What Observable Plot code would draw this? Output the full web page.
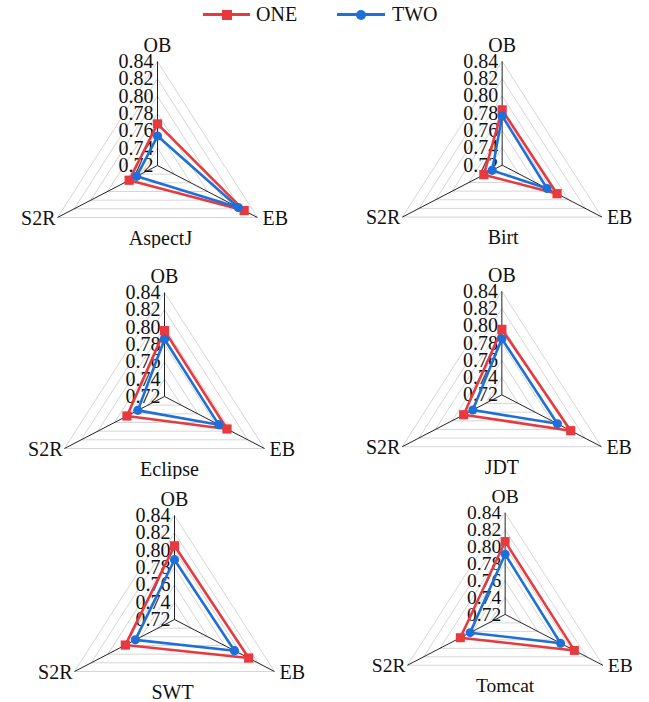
<!DOCTYPE html>
<html>
<head>
<meta charset="utf-8">
<script src="https://cdn.jsdelivr.net/npm/d3@7"></script>
<script src="https://cdn.jsdelivr.net/npm/@observablehq/plot@0.6"></script>
</head>
<body style="margin:0; background:#fff">
<div id="wrap" style="position:relative; width:649px; height:702px; overflow:hidden"></div>
<script>
// ---- data ----
const projects = ["AspectJ", "Birt", "Eclipse", "JDT", "SWT", "Tomcat"];
const axisNames = ["OB", "EB", "S2R"];
const seriesNames = ["ONE", "TWO"];
const oneOB  = [0.768, 0.784, 0.796, 0.796, 0.805, 0.806];
const oneEB  = [0.824, 0.786, 0.795, 0.803, 0.809, 0.805];
const oneS2R = [0.754, 0.742, 0.765, 0.766, 0.779, 0.775];
const twoOB  = [0.754, 0.777, 0.786, 0.785, 0.789, 0.791];
const twoEB  = [0.817, 0.774, 0.785, 0.787, 0.792, 0.788];
const twoS2R = [0.745, 0.732, 0.752, 0.755, 0.767, 0.763];
const tickValues = [0.72, 0.74, 0.76, 0.78, 0.80, 0.82, 0.84];
const tickLabels = ["0.72", "0.74", "0.76", "0.78", "0.80", "0.82", "0.84"];

// ---- layout / style ----
const panelCenters = [[156.7, 165], [501.7, 165], [164.3, 396], [502.3, 395], [174, 619], [507.7, 617]];
const titleDx = [3, 1, 5, 0, -2, 0];
const RED = "#e8393f", BLUE = "#1f6fd8";
const FONT = "Liberation Serif";
const W = 296, H = 218, CX = 148, CY = 135, HALF = 100, RY = 104;
const vmin = tickValues[0], vmax = tickValues[tickValues.length - 1];

function toXY(v, i) {
  const r = (v - vmin) / (vmax - vmin);
  const a = i * 2 * Math.PI / 3;
  return { x: r * Math.sin(a), y: r * Math.cos(a) };
}

const wrap = document.getElementById("wrap");

projects.forEach((name, p) => {
  const seriesVals = [
    [oneOB[p], oneEB[p], oneS2R[p]],
    [twoOB[p], twoEB[p], twoS2R[p]]
  ];
  const grid = [];
  tickValues.slice(1).forEach(t => {
    [0, 1, 2, 0].forEach((i, k) => grid.push({ t, k, ...toXY(t, i) }));
  });
  const spokes = axisNames.map((a, i) => ({ a, ...toXY(vmax, i) }));
  const lines = [];
  const pts = [];
  seriesNames.forEach((s, si) => {
    [0, 1, 2, 0].forEach(i => lines.push({ s, ...toXY(seriesVals[si][i], i) }));
    [0, 1, 2].forEach(i => pts.push({ s, ...toXY(seriesVals[si][i], i) }));
  });
  const ticks = tickValues.map((t, i) => ({ t, label: tickLabels[i] }));

  const chart = Plot.plot({
    width: W,
    height: H,
    style: { fontFamily: FONT },
    x: { type: "linear", domain: [-1, 1], range: [CX - HALF / 0.866, CX + HALF / 0.866], axis: null },
    y: { type: "linear", domain: [0, 1], range: [CY, CY - RY], axis: null },
    marks: [
      Plot.line(grid, { x: "x", y: "y", z: "t", stroke: "#d6d6d6", strokeWidth: 1 }),
      Plot.link(spokes, { x1: d => 0, y1: d => 0, x2: "x", y2: "y", stroke: "#222", strokeWidth: 1 }),
      Plot.text(ticks, { x: d => 0, y: d => (d.t - vmin) / (vmax - vmin), text: "label", textAnchor: "end", dx: -4, fontSize: 20, fill: "#111", fontFamily: FONT }),
      Plot.line(lines.filter(d => d.s === "ONE"), { x: "x", y: "y", stroke: RED, strokeWidth: 2.6, curve: "linear" }),
      Plot.dot(pts.filter(d => d.s === "ONE"), { x: "x", y: "y", symbol: "square", r: 5.2, fill: RED, stroke: "none" }),
      Plot.line(lines.filter(d => d.s === "TWO"), { x: "x", y: "y", stroke: BLUE, strokeWidth: 2.6, curve: "linear" }),
      Plot.dot(pts.filter(d => d.s === "TWO"), { x: "x", y: "y", symbol: "circle", r: 4.6, fill: BLUE, stroke: "none" }),
      Plot.text([spokes[0]], { x: "x", y: "y", text: "a", dy: -16, fontSize: 20, fill: "#111", fontFamily: FONT }),
      Plot.text([spokes[1]], { x: "x", y: "y", text: "a", textAnchor: "start", dx: 5, dy: 1, fontSize: 20, fill: "#111", fontFamily: FONT }),
      Plot.text([spokes[2]], { x: "x", y: "y", text: "a", textAnchor: "end", dx: -2, dy: 1, fontSize: 20, fill: "#111", fontFamily: FONT }),
      Plot.text([name], { x: d => 0, y: d => -0.5, text: d => d, dx: titleDx[p], dy: 21, fontSize: 20, fill: "#111", fontFamily: FONT })
    ]
  });
  const div = document.createElement("div");
  div.style.position = "absolute";
  div.style.left = (panelCenters[p][0] - CX) + "px";
  div.style.top = (panelCenters[p][1] - CY) + "px";
  div.appendChild(chart);
  wrap.appendChild(div);
});

// ---- legend (HTML) ----
const legendItems = [
  { s: seriesNames[0], color: RED, x0: 203, x1: 250, tx: 256, shape: "square" },
  { s: seriesNames[1], color: BLUE, x0: 337, x1: 385, tx: 392, shape: "circle" }
];
legendItems.forEach(it => {
  const ln = document.createElement("div");
  Object.assign(ln.style, { position: "absolute", left: it.x0 + "px", top: "13px", width: (it.x1 - it.x0) + "px", height: "3px", background: it.color });
  wrap.appendChild(ln);
  const m = document.createElement("div");
  const mx = (it.x0 + it.x1) / 2;
  Object.assign(m.style, { position: "absolute", left: (mx - 5) + "px", top: "9.5px", width: "10px", height: "10px", background: it.color, borderRadius: it.shape === "circle" ? "50%" : "0" });
  wrap.appendChild(m);
  const tx = document.createElement("div");
  Object.assign(tx.style, { position: "absolute", left: it.tx + "px", top: "2px", fontSize: "20px", lineHeight: "24px", fontFamily: "'Liberation Serif'", color: "#111" });
  tx.textContent = it.s;
  wrap.appendChild(tx);
});
</script>
</body>
</html>
